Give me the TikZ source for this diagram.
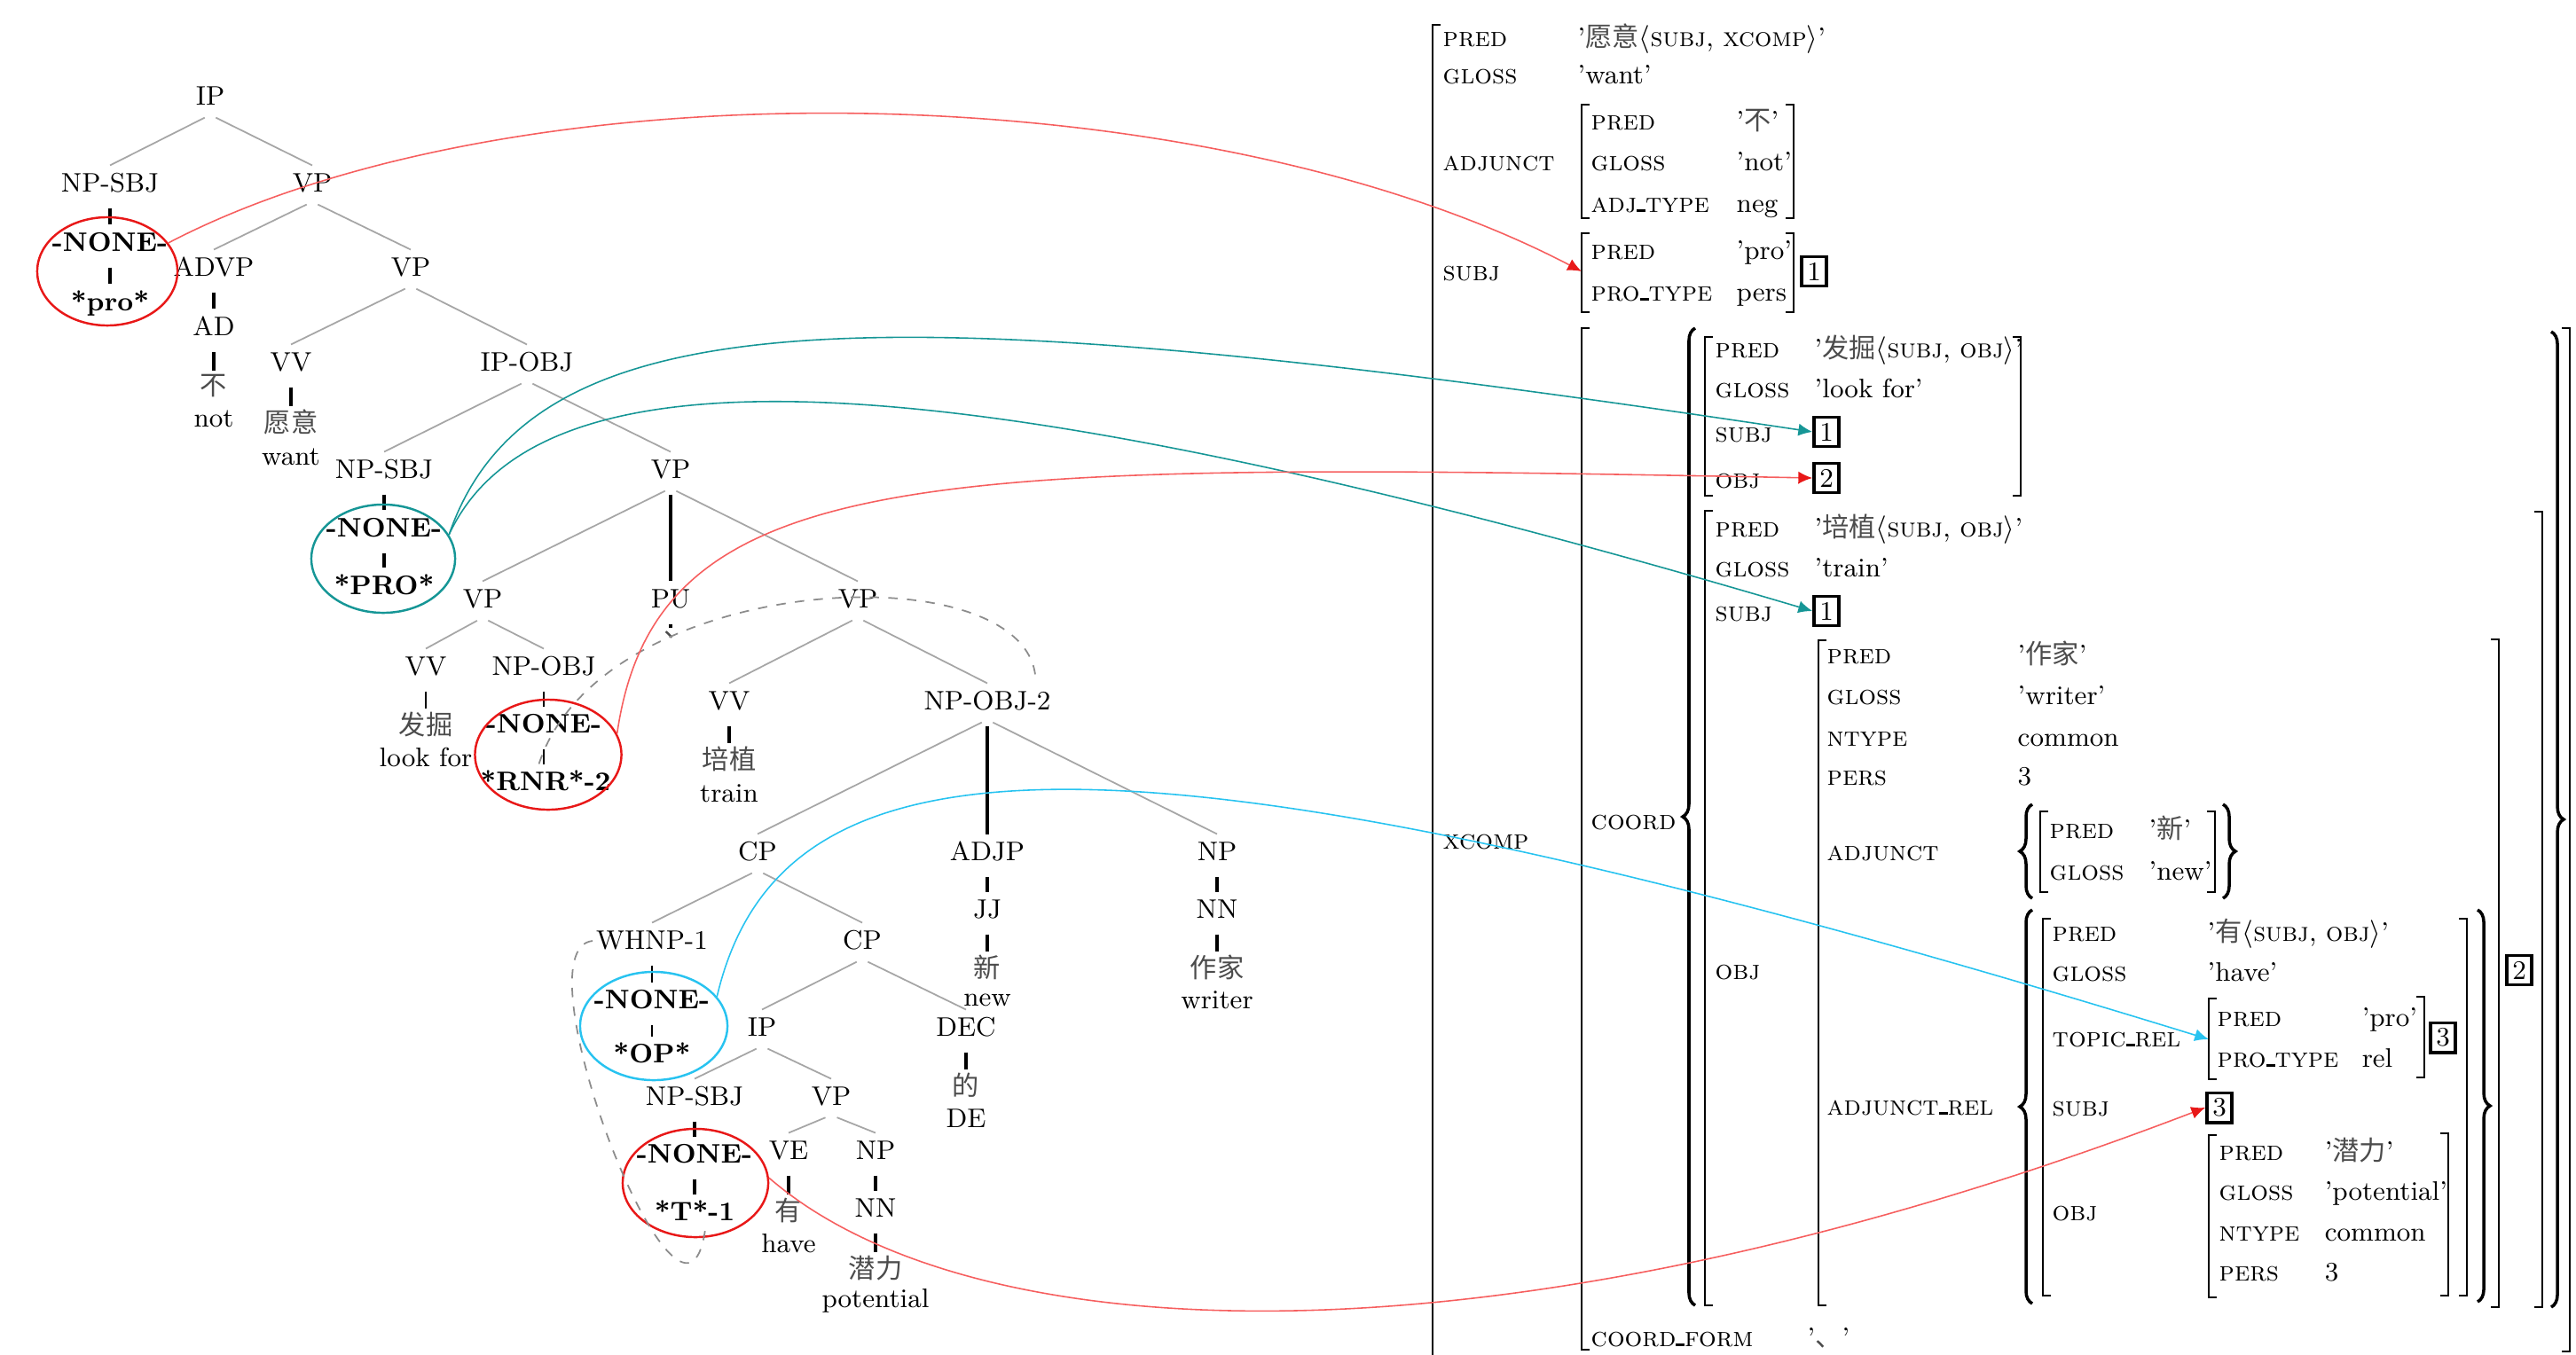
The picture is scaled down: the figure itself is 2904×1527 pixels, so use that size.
\documentclass[tikz,border=0pt]{standalone}
\usepackage{fontspec}
\newfontfamily\cjk{Noto Sans CJK SC}
\usepackage{tikz}
\usetikzlibrary{shapes.geometric,arrows.meta,decorations.pathreplacing}

\definecolor{tracered}{RGB}{232,24,24}
\definecolor{tracelink}{RGB}{246,95,95}
\definecolor{traceteal}{RGB}{22,150,150}
\definecolor{tracecyan}{RGB}{40,195,240}

\newcommand{\zh}[1]{{\cjk\color{black!70}#1}}
\newcommand{\us}{\rule{0.32em}{0.9pt}}

\tikzset{
  cat/.style={font=\fontsize{8.6}{10}\selectfont, inner sep=1pt, text height=1.7ex, text depth=.45ex},
  trc/.style={cat, font=\fontsize{8.6}{10}\selectfont\bfseries},
  word/.style={font=\fontsize{8.6}{10}\selectfont\cjk, text=black!70, inner sep=1pt},
  gls/.style={font=\fontsize{8.6}{10}\selectfont, inner sep=1pt},
  branch/.style={black!35, line width=0.5pt, shorten <=2pt},
  unary/.style={line width=0.9pt, shorten <=2pt},
  unarythin/.style={line width=0.4pt, shorten <=2pt},
  ring/.style={ellipse, draw, line width=0.7pt, inner sep=0pt},
  movement/.style={black!45, dashed, line width=0.5pt},
  redlink/.style={draw=tracelink, line width=0.45pt, -{Latex[length=4.5pt,width=4pt,color=tracered]}},
  teallink/.style={draw=traceteal, line width=0.45pt, -{Latex[length=4.5pt,width=4pt]}},
  cyanlink/.style={draw=tracecyan, line width=0.45pt, -{Latex[length=4.5pt,width=4pt]}},
  feat/.style={anchor=west, inner sep=0pt, font=\fontsize{8.8}{10}\selectfont\scshape, text height=1.6ex, text depth=.4ex},
  val/.style={anchor=west, inner sep=0pt, font=\fontsize{8.6}{10}\selectfont, text height=1.6ex, text depth=.4ex},
  tag/.style={draw, line width=1pt, inner sep=1.8pt, font=\fontsize{8.6}{10}\selectfont},
  brak/.style={line width=0.55pt},
  brc/.style={line width=1pt, decorate, decoration={brace, amplitude=4pt}},
}

\begin{document}
\begin{tikzpicture}[x=0.01cm, y=-0.01cm]
  \useasboundingbox (0,0) rectangle (2904,1527);

  % tree
  \node[cat] (ip1) at (237,109) {IP};
  \node[cat] (npsbj1) at (124,207) {NP-SBJ};
  \node[cat] (vp1) at (352,207) {VP};
  \node[trc] (none1) at (124,274) {-NONE-};
  \node[trc] (pro1) at (124,341) {*pro*};
  \node[cat] (advp) at (241,302) {ADVP};
  \node[cat] (vp2) at (463,302) {VP};
  \node[cat] (ad) at (241,369) {AD};
  \node[word] (bu) at (241,435) {不};
  \node[gls] (gnot) at (241,472) {not};
  \node[cat] (vv1) at (328,409) {VV};
  \node[word] (yuanyi) at (328,476) {愿意};
  \node[gls] (gwant) at (328,515) {want};
  \node[cat] (ipobj) at (594,409) {IP-OBJ};
  \node[cat] (npsbj2) at (433,530) {NP-SBJ};
  \node[cat] (vp3) at (756,530) {VP};
  \node[trc] (none2) at (433,596) {-NONE-};
  \node[trc] (pro2) at (433,661) {*PRO*};
  \node[cat] (vp4) at (544,676) {VP};
  \node[cat] (pu) at (756,676) {PU};
  \node[cat] (vp5) at (967,676) {VP};
  \node[word] (dun) at (764,716) {、};
  \node[cat] (vv2) at (480,752) {VV};
  \node[cat] (npobj) at (613,752) {NP-OBJ};
  \node[word] (fajue) at (480,817) {发掘};
  \node[gls] (glook) at (480,854) {look for};
  \node[trc] (none3) at (613,817) {-NONE-};
  \node[trc] (rnr) at (615,882) {*RNR*-2};
  \node[cat] (vv3) at (822,791) {VV};
  \node[cat] (npobj2) at (1113,791) {NP-OBJ-2};
  \node[word] (peizhi) at (822,856) {培植};
  \node[gls] (gtrain) at (822,895) {train};
  \node[cat] (cp1) at (854,961) {CP};
  \node[cat] (adjp) at (1113,961) {ADJP};
  \node[cat] (np1) at (1372,961) {NP};
  \node[cat] (jj) at (1113,1026) {JJ};
  \node[word] (xin) at (1113,1091) {新};
  \node[gls] (gnew) at (1113,1128) {new};
  \node[cat] (nn1) at (1372,1026) {NN};
  \node[word] (zuojia) at (1372,1091) {作家};
  \node[gls] (gwriter) at (1372,1128) {writer};
  \node[cat] (whnp) at (735,1061) {WHNP-1};
  \node[cat] (cp2) at (972,1061) {CP};
  \node[trc] (none4) at (735,1128) {-NONE-};
  \node[trc] (op) at (735,1189) {*OP*};
  \node[cat] (ip2) at (859,1159) {IP};
  \node[cat] (dec) at (1089,1159) {DEC};
  \node[word] (de) at (1089,1224) {的};
  \node[gls] (gde) at (1089,1261) {DE};
  \node[cat] (npsbj3) at (783,1237) {NP-SBJ};
  \node[cat] (vp6) at (937,1237) {VP};
  \node[trc] (none5) at (783,1302) {-NONE-};
  \node[trc] (t1) at (783,1367) {*T*-1};
  \node[cat] (ve) at (889,1298) {VE};
  \node[cat] (np2) at (987,1298) {NP};
  \node[word] (you) at (889,1365) {有};
  \node[gls] (ghave) at (889,1402) {have};
  \node[cat] (nn2) at (987,1363) {NN};
  \node[word] (qianli) at (987,1430) {潜力};
  \node[gls] (gpot) at (987,1467) {potential};

  \foreach \p/\c in {ip1/npsbj1, ip1/vp1, vp1/advp, vp1/vp2, vp2/vv1, vp2/ipobj,
      ipobj/npsbj2, ipobj/vp3, vp3/vp4, vp3/vp5, vp4/vv2, vp4/npobj, vp5/vv3,
      vp5/npobj2, npobj2/cp1, npobj2/np1, cp1/whnp, cp1/cp2, cp2/ip2, cp2/dec,
      ip2/npsbj3, ip2/vp6, vp6/ve, vp6/np2}
    \draw[branch] (\p.south) -- (\c.north);
  \foreach \p/\c in {npsbj1/none1, none1/pro1, advp/ad, ad/bu, vv1/yuanyi,
      npsbj2/none2, none2/pro2, vp3/pu, pu/dun, vv3/peizhi, npobj2/adjp, adjp/jj,
      jj/xin, np1/nn1, nn1/zuojia, dec/de, npsbj3/none5, none5/t1, ve/you,
      np2/nn2, nn2/qianli}
    \draw[unary] (\p.south) -- (\p.south |- \c.north);
  \foreach \p/\c in {vv2/fajue, npobj/none3, none3/rnr, whnp/none4, none4/op}
    \draw[unarythin] (\p.south) -- (\p.south |- \c.north);

  % empty categories
  \node[ring, draw=tracered, minimum width=1.58cm, minimum height=1.22cm] (ring1) at (121,306) {};
  \node[ring, draw=traceteal, minimum width=1.62cm, minimum height=1.22cm] (ring2) at (432,630) {};
  \node[ring, draw=tracered, minimum width=1.65cm, minimum height=1.24cm] (ring3) at (618,851) {};
  \node[ring, draw=tracecyan, minimum width=1.66cm, minimum height=1.22cm] (ring4) at (737,1157) {};
  \node[ring, draw=tracered, minimum width=1.64cm, minimum height=1.22cm] (ring5) at (784,1334) {};

  \draw[movement] (rnr.110) .. controls (680,640) and (1170,620) .. ([xshift=-6pt]npobj2.north east);
  \draw[movement] (whnp.west) .. controls (580,1070) and (770,1560) .. (t1.-60);

  % f-structure
  \foreach \x/\y/\t [count=\i] in {
      1626/43/pred, 1626/85/gloss, 1626/183/adjunct, 1626/307/subj, 1626/948/xcomp,
      1793/137/pred, 1793/183/gloss, 1793/230/{adj\us type},
      1793/283/pred, 1793/330/{pro\us type},
      1793/926/coord, 1793/1509/{coord\us form},
      1933/394/pred, 1933/439/gloss, 1933/489/subj, 1933/541/obj,
      1933/596/pred, 1933/641/gloss, 1933/691/subj, 1933/1095/obj,
      2059/739/pred, 2059/785/gloss, 2059/832/ntype, 2059/876/pers,
      2059/961/adjunct, 2059/1248/{adjunct\us rel},
      2310/936/pred, 2310/983/gloss,
      2313/1052/pred, 2313/1097/gloss, 2313/1171/{topic\us rel}, 2313/1249/subj, 2313/1367/obj,
      2499/1148/pred, 2499/1194/{pro\us type},
      2501/1299/pred, 2501/1344/gloss, 2501/1390/ntype, 2501/1435/pers}
    \node[feat] (f\i) at (\x,\y) {\t};

  \foreach \x/\y/\t [count=\i] in {
      1778/43/{'\zh{愿意}$\langle$\textsc{subj}, \textsc{xcomp}$\rangle$'},
      1778/85/{'want'},
      1957/137/{'\zh{不}'}, 1957/183/{'not'}, 1957/230/neg,
      1957/283/{'pro'}, 1957/330/pers,
      2045/394/{'\zh{发掘}$\langle$\textsc{subj}, \textsc{obj}$\rangle$'},
      2045/439/{'look for'},
      2045/596/{'\zh{培植}$\langle$\textsc{subj}, \textsc{obj}$\rangle$'},
      2045/641/{'train'},
      2274/739/{'\zh{作家}'}, 2274/785/{'writer'}, 2274/832/common, 2274/876/3,
      2422/936/{'\zh{新}'}, 2422/983/{'new'},
      2488/1052/{'\zh{有}$\langle$\textsc{subj}, \textsc{obj}$\rangle$'},
      2488/1097/{'have'},
      2662/1148/{'pro'}, 2662/1194/rel,
      2620/1299/{'\zh{潜力}'}, 2620/1344/{'potential'}, 2620/1390/common, 2620/1435/3,
      2037/1509/{'\zh{、}'}}
    \node[val] (v\i) at (\x,\y) {\t};

  \node[tag] (b1) at (2045,306) {1};
  \node[tag] (b1a) at (2059,487) {1};
  \node[tag] (b2a) at (2059,539) {2};
  \node[tag] (b1b) at (2059,689) {1};
  \node[tag] (b2b) at (2840,1094) {2};
  \node[tag] (b3a) at (2754,1170) {3};
  \node[tag] (b3b) at (2502,1249) {3};

  % brackets and braces
  \foreach \x/\t/\b in {1615/28/1560, 1783/118/246, 1783/263/352, 1783/370/1522,
      1922/380/559, 1922/576/1472, 2050/722/1472, 2300/915/1006,
      2303/1036/1461, 2490/1126/1217, 2490/1280/1463}
    \draw[brak] (\x+9,\t) -- (\x,\t) -- (\x,\b) -- (\x+9,\b);
  \foreach \x/\t/\b in {2022/118/246, 2022/263/352, 2278/380/559, 2497/915/1006,
      2733/1124/1215, 2760/1278/1461, 2781/1036/1461, 2817/721/1474,
      2866/577/1474, 2897/370/1524}
    \draw[brak] (\x-9,\t) -- (\x,\t) -- (\x,\b) -- (\x-9,\b);
  \foreach \x/\t/\b in {1904/370/1472, 2284/907/1013, 2284/1026/1470}
    \draw[brc] (\x+7,\b) -- (\x+7,\t);
  \foreach \x/\t/\b in {2513/907/1013, 2800/1026/1468, 2883/374/1474}
    \draw[brc] (\x-7,\t) -- (\x-7,\b);

  \coordinate (subjtip) at (1783,306);
  \coordinate (topictip) at (2490,1172);

  % links
  \draw[redlink] (ring1.25) .. controls (580,70) and (1350,80) .. (subjtip);
  \draw[teallink] (ring2.20) .. controls (600,330) and (1000,330) .. (b1a.west);
  \draw[teallink] (ring2.20) .. controls (600,400) and (1000,380) .. (b1b.west);
  \draw[redlink] (ring3.17) .. controls (740,520) and (1050,520) .. (b2a.west);
  \draw[cyanlink] (ring4.25) .. controls (880,820) and (1250,790) .. (topictip);
  \draw[redlink] (ring5.4) .. controls (1100,1530) and (1700,1550) .. (b3b.west);
\end{tikzpicture}
\end{document}
